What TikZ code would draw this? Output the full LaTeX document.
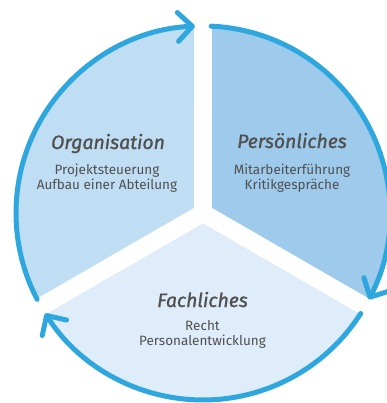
\documentclass[tikz,border=0pt]{standalone}
\usepackage{fontspec}
\setmainfont{Fira Sans}
\newfontfamily\headfont[FakeBold=1.2]{Fira Sans}
\usetikzlibrary{arrows.meta}
\definecolor{ringblue}{HTML}{2EA7DF}
\definecolor{orgfill}{HTML}{BFDDF3}
\definecolor{persfill}{HTML}{9ECAEC}
\definecolor{fachfill}{HTML}{DFECF9}
\definecolor{txtgray}{HTML}{505050}

\begin{document}
\begin{tikzpicture}[x=0.25mm,y=0.25mm,
  ring/.style={ringblue,line width=1.25mm,line cap=round,
               -{Straight Barb[length=3.6mm,width=7.2mm,round]}},
  head/.style={font=\fontsize{13.8}{16}\selectfont\headfont\itshape,
               text=txtgray,inner sep=0pt,anchor=base},
  body/.style={font=\fontsize{9.6}{10.6}\selectfont,text=txtgray,
               align=center,inner sep=0pt,anchor=north}]

\useasboundingbox (-203,-190) rectangle (183,213);

% sectors, pulled back from the three spokes
\foreach \a/\col in {90/orgfill,330/persfill,210/fachfill}
  \fill[\col] (\a+60:10.4) -- (\a+2.76:187)
    arc[start angle=\a+2.76,end angle=\a+117.24,radius=187] -- cycle;

% outer ring, one arrow per sector
\foreach \a in {90,330,210}
  \draw[ring] (\a+117.5:187) arc[start angle=\a+117.5,end angle=\a+2.5,radius=187];

\node[head] (org) at (-95,64) {Organisation};
\node[body] (orgtxt) at (-96,49.5) {Projektsteuerung\\Aufbau einer Abteilung};

\node[head] (pers) at (89,65) {Persönliches};
\node[body] (perstxt) at (89,49.5) {Mitarbeiterführung\\Kritikgespräche};

\node[head] (fach) at (-0.5,-94) {Fachliches};
\node[body] (fachtxt) at (-0.5,-107.5) {Recht\\Personalentwicklung};
\end{tikzpicture}
\end{document}
